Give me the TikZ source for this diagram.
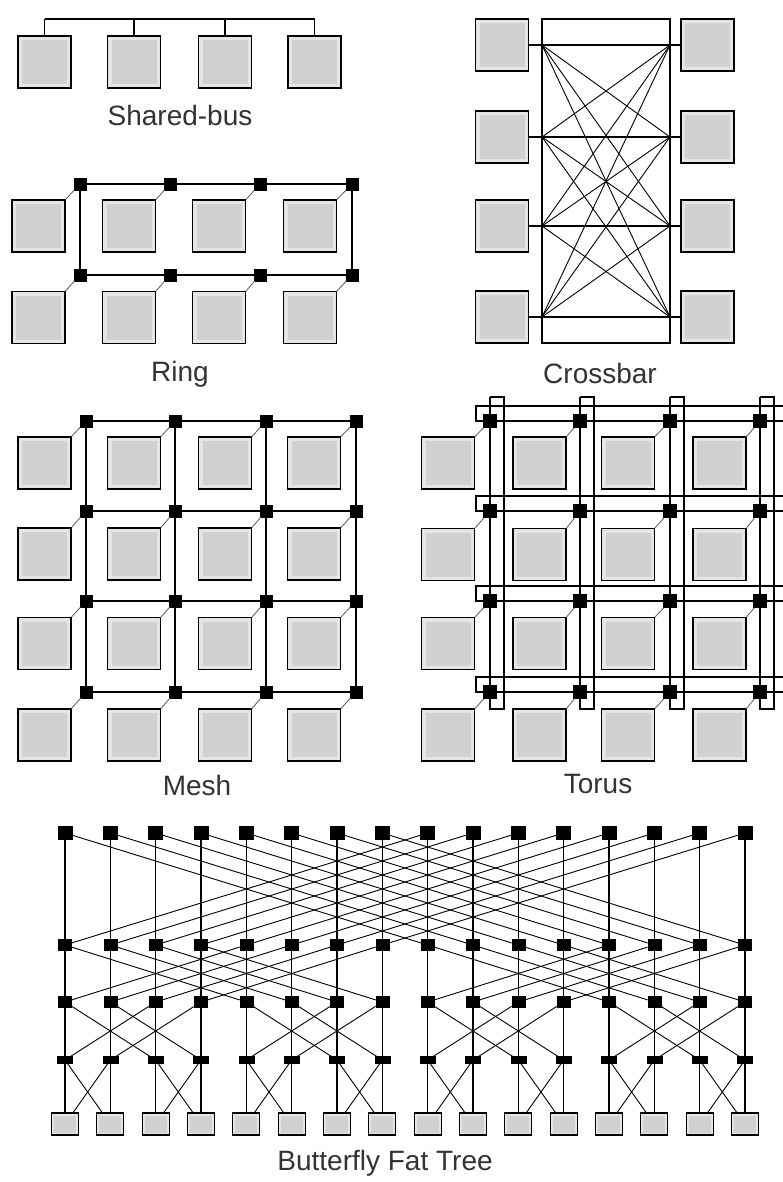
\documentclass[tikz,border=0pt]{standalone}
\usepackage{fontspec}
\setmainfont{Liberation Sans}
\begin{document}
\begin{tikzpicture}[x=1pt,y=-1pt,
  pe/.style={draw, line width=1.1pt, fill=gray!20, minimum width=53pt, minimum height=52pt, inner sep=0pt,
    path picture={\fill[gray!36] ([shift={(4pt,4pt)}]path picture bounding box.south west) rectangle ([shift={(-4pt,-4pt)}]path picture bounding box.north east);}},
  leaf/.style={draw, line width=1.1pt, fill=gray!20, minimum width=27pt, minimum height=22pt, inner sep=0pt,
    path picture={\fill[gray!36] ([shift={(2.5pt,2.5pt)}]path picture bounding box.south west) rectangle ([shift={(-2.5pt,-2.5pt)}]path picture bounding box.north east);}},
  sw/.style={fill=black, draw=black, minimum size=12pt, inner sep=0pt},
  swa/.style={fill=black, draw=black, minimum width=14pt, minimum height=13pt, inner sep=0pt},
  swb/.style={fill=black, draw=black, minimum width=13pt, minimum height=11pt, inner sep=0pt},
  swc/.style={fill=black, draw=black, minimum width=15pt, minimum height=7pt, inner sep=0pt},
  link/.style={line width=1.3pt},
  thinlink/.style={line width=0.9pt},
  stub/.style={line width=0.8pt, gray!70!black},
  lbl/.style={font=\fontsize{28}{32}\selectfont, text=black!80, inner sep=0pt}
]
\useasboundingbox (0,0) rectangle (783,1182);
\fill[white] (0,0) rectangle (783,1182);

% ---------------- Shared-bus ----------------
\foreach \x [count=\k] in {44.5,134,225,314.5} {
  \node[pe] (sb\k) at (\x,62) {};
  \coordinate (bus\k) at (\x,19);
}
\draw[link] (bus1) -- (bus4);
\foreach \k in {1,...,4} \draw[link] (bus\k) -- (sb\k.north);
\node[lbl] (tsb) at (180,115) {Shared-bus};

% ---------------- Ring ----------------
\foreach \x [count=\k] in {38.5,129,219,310} {
  \node[pe] (ra\k) at (\x,226) {};
  \node[pe] (rb\k) at (\x,317.5) {};
}
\foreach \x [count=\k] in {80,170,260,352} {
  \node[sw] (rsa\k) at (\x,184) {};
  \node[sw] (rsb\k) at (\x,275) {};
}
\draw[link] (rsa1) -- (rsa2) -- (rsa3) -- (rsa4) -- (rsb4) -- (rsb3) -- (rsb2) -- (rsb1) -- (rsa1);
\foreach \k in {1,...,4} {
  \draw[stub] (rsa\k) -- (ra\k.north east);
  \draw[stub] (rsb\k) -- (rb\k.north east);
}
\node[lbl] (tring) at (180,374) {Ring};

% ---------------- Crossbar ----------------
\foreach \y [count=\k] in {45,137,226,317} {
  \node[pe] (cl\k) at (502,\y) {};
  \node[pe] (cr\k) at (707.5,\y) {};
  \coordinate (pl\k) at (542,\y);
  \coordinate (pr\k) at (670,\y);
}
\node[draw, line width=1.1pt, minimum width=128pt, minimum height=324pt, inner sep=0pt] (xbar) at (606,181) {};
\foreach \k in {1,...,4} \draw[link] (cl\k.east) -- (cr\k.west);
\foreach \i in {1,...,4} {
  \foreach \j in {1,...,4} {
    \ifnum\i=\j\relax\else \draw[thinlink] (pl\i) -- (pr\j);\fi
  }
}
\node[lbl] (tcb) at (600,373) {Crossbar};

% ---------------- Mesh ----------------
\foreach \y [count=\r] in {463,554,643.5,735} {
  \foreach \x [count=\c] in {44.5,134,225,314} {
    \node[pe] (mb-\r-\c) at (\x,\y) {};
  }
}
\foreach \y [count=\r] in {421,511,601,692} {
  \foreach \x [count=\c] in {86,175,266,356} {
    \node[sw] (ms-\r-\c) at (\x,\y) {};
  }
}
\foreach \r in {1,...,4} {
  \draw[link] (ms-\r-1) -- (ms-\r-2) -- (ms-\r-3) -- (ms-\r-4);
  \draw[link] (ms-1-\r) -- (ms-2-\r) -- (ms-3-\r) -- (ms-4-\r);
  \foreach \c in {1,...,4} \draw[stub] (ms-\r-\c) -- (mb-\r-\c.north east);
}
\node[lbl] (tmesh) at (197,785) {Mesh};

% ---------------- Torus ----------------
\foreach \y [count=\r] in {463,554.5,643.5,735} {
  \foreach \x [count=\c] in {448,539.5,628,719.5} {
    \node[pe] (tb-\r-\c) at (\x,\y) {};
  }
}
\foreach \y [count=\r] in {421,511,601,692} {
  \foreach \x [count=\c] in {490,580,670,760} {
    \node[sw,minimum size=13pt] (ts-\r-\c) at (\x,\y) {};
  }
  \coordinate (tre-\r) at (783,\y);
  \coordinate (trt-\r) at (783,\y-15);
  \coordinate (trl-\r) at (476,\y-15);
  \coordinate (trb-\r) at (476,\y);
}
\foreach \x [count=\c] in {490,580,670,760} {
  \coordinate (tct-\c) at (\x,397);
  \coordinate (tcu-\c) at (\x+14,397);
  \coordinate (tcv-\c) at (\x+14,709);
  \coordinate (tcb-\c) at (\x,709);
}
\foreach \r in {1,...,4} {
  \draw[link] (tre-\r) -- (ts-\r-4) -- (ts-\r-3) -- (ts-\r-2) -- (ts-\r-1) -- (trb-\r) -- (trl-\r) -- (trt-\r);
  \draw[link] (tct-\r) -- (ts-1-\r) -- (ts-2-\r) -- (ts-3-\r) -- (ts-4-\r) -- (tcb-\r) -- (tcv-\r) -- (tcu-\r) -- (tct-\r);
  \foreach \c in {1,...,4} \draw[stub] (ts-\r-\c) -- (tb-\r-\c.north east);
}
\node[lbl] (ttor) at (598,784) {Torus};

% ---------------- Butterfly Fat Tree ----------------
\foreach \i in {0,...,15} {
  \pgfmathsetmacro\xx{65+45.33*\i}
  \node[swa] (a\i) at (\xx,833) {};
  \node[swb] (b\i) at (\xx,945) {};
  \node[swb] (c\i) at (\xx,1002) {};
  \node[swc] (d\i) at (\xx,1060) {};
  \node[leaf] (e\i) at (\xx,1124) {};
}
\foreach \i in {0,...,15} {
  \pgfmathtruncatemacro\ja{mod(\i+8,16)}
  \pgfmathtruncatemacro\jb{\i+4-8*mod(floor(\i/4),2)}
  \pgfmathtruncatemacro\jc{\i+2-4*mod(floor(\i/2),2)}
  \pgfmathtruncatemacro\jd{\i+1-2*mod(\i,2)}
  \draw[link] (a\i) -- (b\i);
  \draw[thinlink] (a\i) -- (b\ja);
  \draw[link] (b\i) -- (c\i);
  \draw[thinlink] (b\i) -- (c\jb);
  \draw[link] (c\i) -- (d\i);
  \draw[thinlink] (c\i) -- (d\jc);
  \draw[link] (d\i) -- (e\i);
  \draw[thinlink] (d\i) -- (e\jd);
}
\node[lbl] (tbft) at (385,1163) {Butterfly Fat Tree};
\end{tikzpicture}
\end{document}
